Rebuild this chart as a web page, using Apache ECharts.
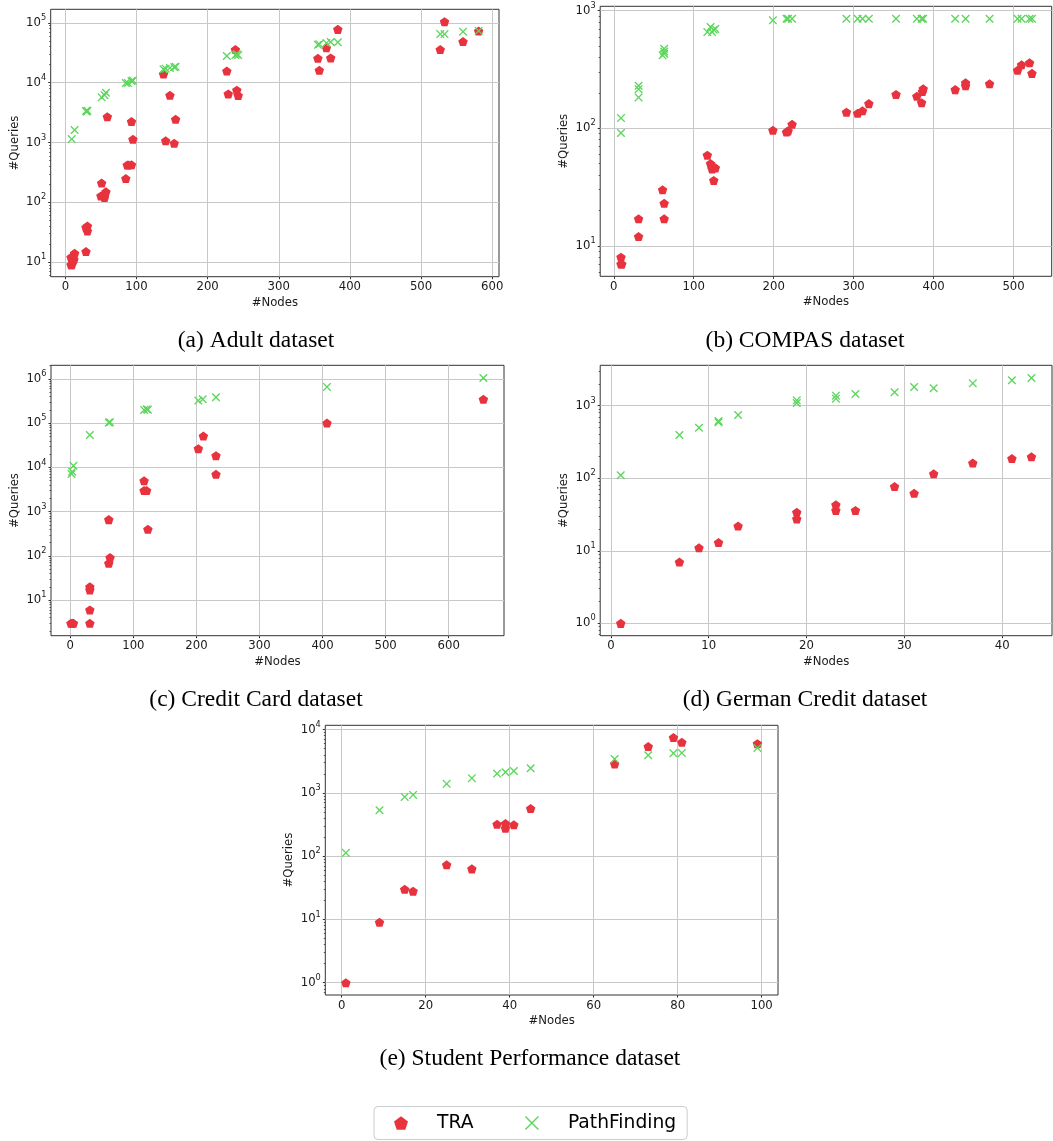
<!DOCTYPE html>
<html><head><meta charset="utf-8">
<script src="https://cdn.jsdelivr.net/npm/echarts@6/dist/echarts.min.js"></script>
<style>html,body{margin:0;padding:0;background:#fff}#c{width:1053px;height:1141px}</style>
</head><body><div id="c"></div>
<script>
// ---------------- data ----------------
const seriesNames = ['TRA', 'PathFinding'];
const captions = ['(a) Adult dataset', '(b) COMPAS dataset', '(c) Credit Card dataset', '(d) German Credit dataset', '(e) Student Performance dataset'];
const xAxisName = '#Nodes';
const yAxisName = '#Queries';

const adultTRA = [[8,9],[9,9],[8,12],[10,11],[12,11],[13,14],[29,15],[29,38],[31,40],[31,33],[51,210],[50,128],[53,130],[55,120],[57,150],[59,2700],[85,250],[87,420],[89,420],[93,425],[93,2250],[95,1130],[138,14000],[141,1070],[147,6150],[153,970],[155,2450],[227,15700],[229,6500],[239,35800],[241,7500],[243,6100],[355,25700],[357,16100],[367,38300],[373,26000],[383,78000],[527,35800],[533,105000],[559,49000],[581,73000]];
const adultPF = [[9,1140],[13,1620],[29,3350],[30,3300],[31,3400],[51,5700],[55,6200],[57,6800],[85,9900],[88,9900],[93,10700],[95,10900],[138,16800],[141,17200],[147,17700],[153,18200],[155,18500],[227,28000],[239,29000],[241,30000],[243,29000],[355,43000],[357,44000],[367,46000],[373,48000],[383,47500],[527,65000],[533,65000],[559,71500],[581,73500]];

const compasTRA = [[9,8],[9,7],[10,7],[31,17],[31,12],[61,30],[63,23],[63,17],[117,59],[121,50],[123,45],[127,46],[125,36],[199,96],[216,93],[218,95],[223,108],[291,137],[305,134],[311,141],[319,162],[353,194],[379,187],[385,165],[386,205],[387,217],[427,213],[440,244],[440,230],[470,239],[505,311],[510,347],[520,360],[523,293]];
const compasPF = [[9,122],[9,91],[31,230],[31,215],[31,183],[61,417],[63,475],[63,450],[63,430],[117,658],[121,726],[123,658],[125,690],[127,700],[199,828],[216,855],[218,855],[223,855],[291,855],[305,855],[311,855],[319,855],[353,855],[379,855],[385,855],[387,855],[427,855],[440,855],[470,855],[505,855],[510,855],[520,855],[523,855]];

const creditTRA = [[1,3],[3,3],[5,3],[31,3],[31,6],[31,17],[31,20],[61,660],[61,68],[63,92],[117,5000],[117,3000],[121,3000],[123,400],[203,26500],[211,51000],[231,18400],[231,7000],[407,101000],[655,347000]];
const creditPF = [[2,7100],[3,8000],[5,10900],[31,54000],[61,103000],[63,105000],[117,199000],[121,205000],[123,202000],[203,324000],[210,347000],[231,385000],[407,659000],[655,1050000]];

const germanTRA = [[1,1],[7,7],[9,11],[11,13],[13,22],[19,34],[19,27.5],[23,43],[23,36],[25,36],[29,77],[31,62],[33,115],[37,162],[41,187],[43,198]];
const germanPF = [[1,110],[7,395],[9,496],[11,614],[11,590],[13,743],[19,1185],[19,1090],[23,1374],[23,1250],[25,1450],[29,1530],[31,1810],[33,1735],[37,2030],[41,2240],[43,2410]];

const studentTRA = [[1,1],[9,9],[15,30],[17,28],[25,73],[31,63],[37,320],[39,328],[39,277],[41,313],[45,566],[65,2870],[73,5400],[79,7480],[81,6300],[99,6000]];
const studentPF = [[1,113],[9,532],[15,865],[17,930],[25,1390],[31,1710],[37,2020],[39,2120],[41,2220],[45,2450],[65,3440],[73,3940],[79,4230],[81,4280],[99,5140]];

// tick values
const adultXTicks = [0,100,200,300,400,500,600];
const adultYTicks = [10,100,1000,10000,100000];
const compasXTicks = [0,100,200,300,400,500];
const compasYTicks = [10,100,1000];
const creditXTicks = [0,100,200,300,400,500,600];
const creditYTicks = [10,100,1000,10000,100000,1000000];
const germanXTicks = [0,10,20,30,40];
const germanYTicks = [1,10,100,1000];
const studentXTicks = [0,20,40,60,80,100];
const studentYTicks = [1,10,100,1000,10000];

// ---------------- layout / style ----------------
const panels = [
  {grid:{left:50.7, top:9.3, width:448.3, height:267.4}, xr:[-20.6,609.6], yr:[5.7,169000], xt:adultXTicks, yt:adultYTicks, tra:adultTRA, pf:adultPF, cap:[256,341]},
  {grid:{left:600.2, top:6.3, width:451.5, height:270}, xr:[-17,547.7], yr:[5.5,1090], xt:compasXTicks, yt:compasYTicks, tra:compasTRA, pf:compasPF, cap:[805,341]},
  {grid:{left:51, top:365.3, width:453, height:270.4}, xr:[-30.6,687.7], yr:[1.57,2030000], xt:creditXTicks, yt:creditYTicks, tra:creditTRA, pf:creditPF, cap:[256,700]},
  {grid:{left:600.2, top:365.3, width:451.8, height:270.4}, xr:[-1.1,45.1], yr:[0.676,3600], xt:germanXTicks, yt:germanYTicks, tra:germanTRA, pf:germanPF, cap:[805,700]},
  {grid:{left:325.3, top:725.3, width:452.7, height:269.7}, xr:[-3.9,103.9], yr:[0.64,11700], xt:studentXTicks, yt:studentYTicks, tra:studentTRA, pf:studentPF, cap:[530,1059]}
];

const FONT = 'DejaVu Sans';
const TXT = '#1a1a1a';
const RED = '#e8333f';
const GREEN = '#5cd65c';
const PENT = 'path://M0,-1L0.951,-0.309L0.588,0.809L-0.588,0.809L-0.951,-0.309Z';
const XMARK = 'path://M0,1.1L1.1,0L5,3.9L8.9,0L10,1.1L6.1,5L10,8.9L8.9,10L5,6.1L1.1,10L0,8.9L3.9,5Z';
const XTHIN = 'path://M0,0.7L0.7,0L5,4.3L9.3,0L10,0.7L5.7,5L10,9.3L9.3,10L5,5.7L0.7,10L0,9.3L4.3,5Z';
const tickStyle = {color:'#333', width:1};
const gridLine = {color:'#c8c8c8', width:1};

const grids = [], xAxes = [], yAxes = [], series = [], graphics = [];
panels.forEach((p, i) => {
  grids.push(Object.assign({show:true, borderColor:'#333', borderWidth:1, backgroundColor:'transparent', containLabel:false}, p.grid));
  xAxes.push({
    gridIndex:i, type:'value', min:p.xr[0], max:p.xr[1],
    axisLine:{show:false, onZero:false},
    axisTick:{show:true, length:2.5, customValues:p.xt, lineStyle:tickStyle},
    axisLabel:{customValues:p.xt, margin:4.5, fontFamily:FONT, fontSize:11.7, color:TXT},
    splitLine:{show:true, lineStyle:gridLine},
    name:xAxisName, nameLocation:'middle', nameGap:20,
    nameTextStyle:{fontFamily:FONT, fontSize:11.7, color:TXT}
  });
  yAxes.push({
    gridIndex:i, type:'log', logBase:10, min:p.yr[0], max:p.yr[1],
    axisLine:{show:false, onZero:false},
    axisTick:{show:true, length:2.5, customValues:p.yt, lineStyle:tickStyle},
    minorTick:{show:true, splitNumber:9, length:1.5, lineStyle:{color:'#333', width:0.8}},
    axisLabel:{customValues:p.yt, margin:4.5, fontFamily:FONT, fontSize:11.7, color:TXT,
      formatter: v => '{b|10}{s|' + Math.round(Math.log10(v)) + '}',
      rich:{b:{fontFamily:FONT, fontSize:11.7, color:TXT, lineHeight:18},
            s:{fontFamily:FONT, fontSize:8.2, color:TXT, verticalAlign:'top', lineHeight:10}}},
    splitLine:{show:true, lineStyle:gridLine},
    name:yAxisName, nameLocation:'middle', nameGap:30, nameRotate:90,
    nameTextStyle:{fontFamily:FONT, fontSize:11.7, color:TXT}
  });
  series.push({type:'scatter', name:seriesNames[0], xAxisIndex:i, yAxisIndex:i, data:p.tra,
    symbol:PENT, symbolSize:9.5, symbolKeepAspect:true, itemStyle:{color:RED, opacity:1},
    emphasis:{disabled:true}, z:2});
  series.push({type:'scatter', name:seriesNames[1], xAxisIndex:i, yAxisIndex:i, data:p.pf,
    symbol:XMARK, symbolSize:8.5, itemStyle:{color:GREEN, opacity:1},
    emphasis:{disabled:true}, z:3});
  graphics.push({type:'text', x:p.cap[0], y:p.cap[1],
    style:{text:captions[i], fontFamily:'Liberation Serif', fontSize:23.5, fill:'#000', align:'center', verticalAlign:'middle'}});
});

const chart = echarts.init(document.getElementById('c'), null, {renderer:'canvas'});
chart.setOption({
  animation:false,
  backgroundColor:'#fff',
  grid:grids, xAxis:xAxes, yAxis:yAxes, series:series, graphic:graphics,
  legend:{
    data:[{name:seriesNames[0], icon:PENT}, {name:seriesNames[1], icon:XTHIN}],
    left:374, top:1106.5, orient:'horizontal',
    itemWidth:14, itemHeight:14, itemGap:51.5,
    padding:[6.5, 11, 6.5, 20],
    borderColor:'#cccccc', borderWidth:1, borderRadius:4, backgroundColor:'#fff',
    selectedMode:false,
    textStyle:{fontFamily:FONT, fontSize:18.7, color:'#000', lineHeight:20, padding:[0,0,0,24]}
  }
});
</script>
</body></html>
